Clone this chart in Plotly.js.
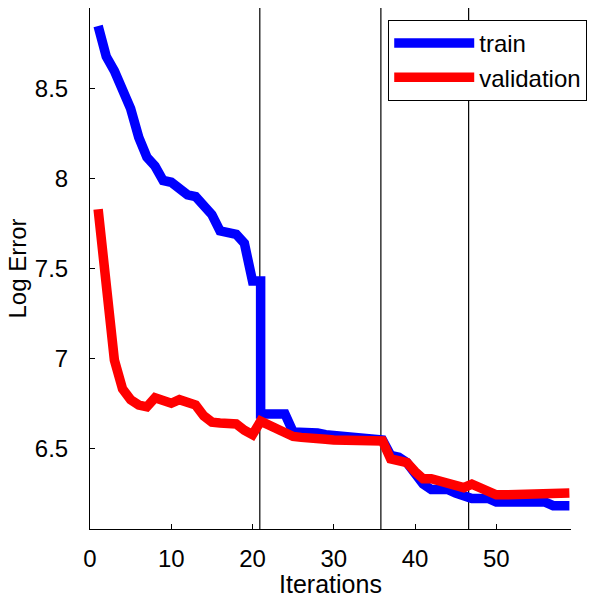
<!DOCTYPE html>
<html>
<head>
<meta charset="utf-8">
<script src="https://cdn.plot.ly/plotly-3.0.1.min.js"></script>
<style>html,body{margin:0;padding:0;background:#fff;}#chart{width:597px;height:598px;}</style>
</head>
<body>
<div id="chart"></div>
<script>
// Iterations and errors
const trainIter = [1,2,3,4,5,6,7,8,9,10,11,12,13,14,15,16,17,18,19,20,21,21,22,23,24,25,26,27,28,29,30,31,32,33,34,35,36,37,38,39,40,41,42,43,44,45,46,47,48,49,50,51,52,53,54,55,56,57,58,59];
const trainErr = [8.85,8.68,8.60,8.50,8.39,8.23,8.12,8.07,7.99,7.98,7.95,7.91,7.90,7.85,7.80,7.71,7.70,7.69,7.64,7.43,7.43,6.69,6.69,6.69,6.69,6.59,6.59,6.59,6.585,6.575,6.57,6.565,6.555,6.55,6.545,6.545,6.545,6.46,6.45,6.42,6.36,6.30,6.27,6.27,6.27,6.25,6.23,6.22,6.22,6.22,6.20,6.20,6.20,6.20,6.20,6.20,6.20,6.18,6.18,6.18];

const valIter = [1,2,3,4,5,6,7,8,9,10,11,12,13,14,15,16,17,18,19,20,21,22,23,24,25,26,27,28,29,30,31,32,33,34,35,36,37,38,39,40,41,42,43,44,45,46,47,48,49,50,51,52,53,54,55,56,57,58,59];
const valErr = [7.83,7.34,6.99,6.83,6.77,6.74,6.73,6.78,6.77,6.75,6.77,6.75,6.74,6.68,6.645,6.64,6.64,6.635,6.60,6.575,6.65,6.625,6.60,6.58,6.565,6.56,6.56,6.555,6.55,6.545,6.545,6.535,6.535,6.535,6.535,6.54,6.44,6.43,6.42,6.37,6.33,6.33,6.32,6.31,6.29,6.28,6.30,6.28,6.26,6.24,6.24,6.24,6.24,6.24,6.24,6.24,6.24,6.245,6.25];

const phaseBoundaries = [20.9, 35.8, 46.6];
const xTickVals = [0,10,20,30,40,50];
const yTickVals = [6.5,7,7.5,8,8.5];
const yTickText = ['6.5','7','7.5','8','8.5'];

const FONT = 'Liberation Sans, Arial, sans-serif';

const traces = [
  {x: trainIter, y: trainErr, name: 'train', mode: 'lines', line: {color: '#0000ff', width: 9.5}},
  {x: valIter, y: valErr, name: 'validation', mode: 'lines', line: {color: '#ff0000', width: 9.5}}
];

const shapes = phaseBoundaries.map(b => ({
  type: 'line', xref: 'x', yref: 'paper', x0: b, x1: b, y0: 0, y1: 1,
  line: {color: '#000', width: 1.2}, layer: 'below'
}));

const layout = {
  width: 597, height: 598,
  margin: {l: 90, r: 26, t: 8, b: 69},
  paper_bgcolor: '#fff', plot_bgcolor: '#fff',
  font: {family: FONT, size: 24, color: '#000'},
  showlegend: true,
  legend: {
    x: 0.62, y: 0.977, xanchor: 'left', yanchor: 'top',
    bordercolor: '#000', borderwidth: 1, bgcolor: '#fff',
    font: {family: FONT, size: 24, color: '#000'},
    itemwidth: 80, tracegroupgap: 0
  },
  xaxis: {
    range: [0, 59.2], tickvals: xTickVals, ticks: 'inside', ticklen: 5, tickcolor: '#000',
    showline: true, linecolor: '#000', linewidth: 1, showgrid: false, zeroline: false,
    mirror: false, tickfont: {family: FONT, size: 24}, ticklabelstandoff: 8,
    title: {text: 'Iterations', font: {family: FONT, size: 25}, standoff: 17},
    automargin: false
  },
  yaxis: {
    range: [6.05, 8.95], tickvals: yTickVals, ticktext: yTickText, ticks: 'inside', ticklen: 5, tickcolor: '#000',
    showline: true, linecolor: '#000', linewidth: 1, showgrid: false, zeroline: false,
    mirror: false, tickfont: {family: FONT, size: 24}, ticklabelstandoff: 16,
    title: {text: 'Log Error', font: {family: FONT, size: 24}, standoff: 1},
    automargin: false
  },
  shapes: shapes
};

Plotly.newPlot('chart', traces, layout, {displayModeBar: false, staticPlot: true});
</script>
</body>
</html>
